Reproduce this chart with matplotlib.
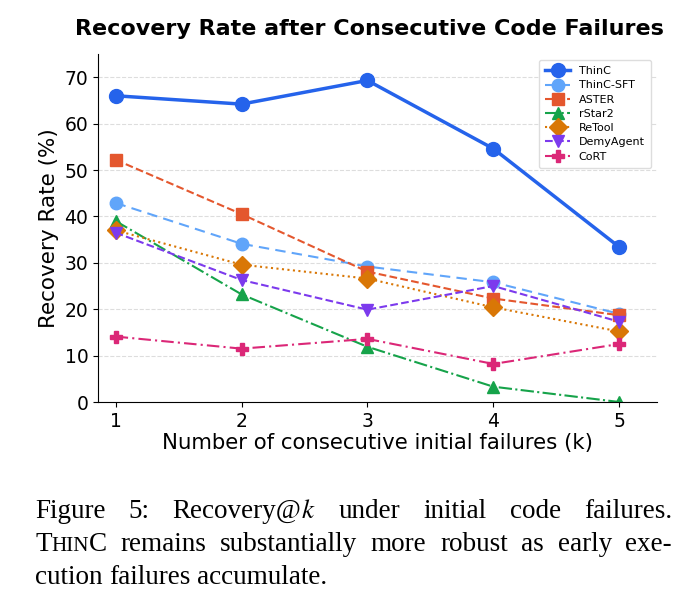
import matplotlib
matplotlib.use('Agg')
from matplotlib import pyplot as plt

k_values = [1, 2, 3, 4, 5]

thinc = [66.0, 64.2, 69.3, 54.6, 33.4]
thinc_sft = [42.9, 34.1, 29.2, 25.8, 19.0]
aster = [52.2, 40.5, 28.1, 22.3, 18.7]
rstar2 = [39.0, 23.2, 11.9, 3.3, 0.0]
retool = [37.0, 29.6, 26.6, 20.4, 15.2]
demyagent = [36.5, 26.3, 19.9, 25.0, 17.3]
cort = [14.1, 11.5, 13.6, 8.2, 12.5]

# name, values, colour, marker, linestyle
series = [
    ('ThinC', thinc, '#2563EB', 'o', '-'),
    ('ThinC-SFT', thinc_sft, '#60A5FA', 'o', (0, (5, 3))),
    ('ASTER', aster, '#E4572E', 's', '--'),
    ('rStar2', rstar2, '#16A34A', '^', '-.'),
    ('ReTool', retool, '#D97706', 'D', ':'),
    ('DemyAgent', demyagent, '#7C3AED', 'v', '--'),
    ('CoRT', cort, '#DB2777', 'P', (0, (6, 2, 1, 2))),
]

plt.rcParams['mathtext.fontset'] = 'stix'

fig = plt.figure(figsize=(6.9, 6.02), dpi=100)
ax = fig.add_axes([98 / 690, 1 - 402 / 602, (657 - 98) / 690, (402 - 54) / 602])

for name, vals, col, mk, ls in series:
    if name == 'ThinC':
        ax.plot(k_values, vals, color=col, marker=mk, linestyle=ls, linewidth=2.5,
                markersize=10, label=name, zorder=5)
    else:
        ax.plot(k_values, vals, color=col, marker=mk, linestyle=ls, linewidth=1.5,
                markersize=9, label=name)

ax.set_xlim(0.86, 5.3)
ax.set_ylim(0, 75)
ax.set_xticks(k_values)
ax.set_yticks([0, 10, 20, 30, 40, 50, 60, 70])
ax.tick_params(labelsize=13.5)
ax.grid(axis='y', linestyle='--', color='#dddddd', linewidth=0.8)
ax.spines['top'].set_visible(False)
ax.spines['right'].set_visible(False)
ax.set_xlabel('Number of consecutive initial failures (k)', fontsize=15.3, labelpad=2)
ax.set_ylabel('Recovery Rate (%)', fontsize=15.5)
ax.set_title('Recovery Rate after Consecutive Code Failures', fontsize=16,
             fontweight='bold', pad=14, x=0.485)
ax.legend(loc='upper right', fontsize=8, framealpha=1, edgecolor='#dddddd',
          handlelength=2.2, labelspacing=0.38, borderpad=0.6)

# caption, justified by hand
renderer = fig.canvas.get_renderer()
cap_size = 19.5
left_px, right_px = 35, 672
serif = 'Liberation Serif'


def word_width(parts):
    w = 0
    for txt, size in parts:
        t = fig.text(0, 0, txt, fontsize=size, family=serif)
        w += t.get_window_extent(renderer).width
        t.remove()
    return w


def draw_line(words, y_px, justify=True):
    widths = [word_width(w) for w in words]
    if justify:
        gap = (right_px - left_px - sum(widths)) / (len(words) - 1)
    else:
        sp = fig.text(0, 0, 'a b', fontsize=cap_size, family=serif)
        sp2 = fig.text(0, 0, 'ab', fontsize=cap_size, family=serif)
        gap = sp.get_window_extent(renderer).width - sp2.get_window_extent(renderer).width
        sp.remove()
        sp2.remove()
    x = left_px
    for w, wd in zip(words, widths):
        xx = x
        for txt, size in w:
            t = fig.text(xx / 690, 1 - y_px / 602, txt, fontsize=size, family=serif,
                         va='baseline')
            xx += t.get_window_extent(renderer).width
        x += wd + gap


def plain(s):
    return [[(w, cap_size)] for w in s.split()]


line1 = plain('Figure 5:') + [[('Recovery@', cap_size), ('$k$', cap_size)]] + \
    plain('under initial code failures.')
line2 = [[('T', cap_size), ('HIN', cap_size * 0.78), ('C', cap_size)]] + \
    plain('remains substantially more robust as early exe-')
line3 = plain('cution failures accumulate.')

draw_line(line1, 518)
draw_line(line2, 551)
draw_line(line3, 584, justify=False)

plt.savefig('out.png', dpi=100)
